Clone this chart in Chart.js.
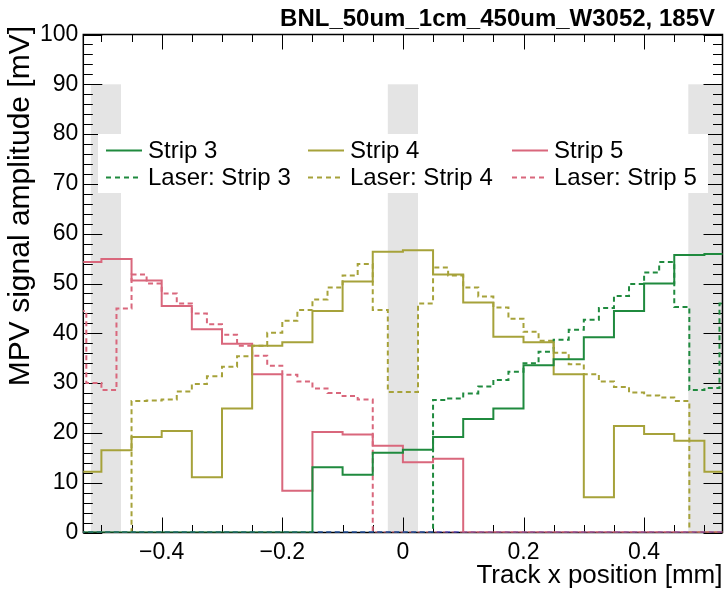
<!DOCTYPE html>
<html>
<head>
<meta charset="utf-8">
<script src="https://cdn.jsdelivr.net/npm/chart.js@4.4.1/dist/chart.umd.min.js"></script>
<style>
  html, body { margin: 0; padding: 0; background: #ffffff; }
  #wrap { width: 725px; height: 591px; }
</style>
</head>
<body>
<div id="wrap"><canvas id="c" width="725" height="591"></canvas></div>
<script>
// ---------------- data ----------------
const TITLE = 'BNL_50um_1cm_450um_W3052, 185V';
const X_TITLE = 'Track x position [mm]';
const Y_TITLE = 'MPV signal amplitude [mV]';

const xTickValues = [-0.4, -0.2, 0, 0.2, 0.4];
const yTickValues = [0, 10, 20, 30, 40, 50, 60, 70, 80, 90, 100];

// bin edges (track scan: 50 um bins, laser scan: 25 um bins)
const stripEdges = [-0.55, -0.5, -0.45, -0.4, -0.35, -0.3, -0.25, -0.2, -0.15, -0.1, -0.05, 0,
                    0.05, 0.1, 0.15, 0.2, 0.25, 0.3, 0.35, 0.4, 0.45, 0.5, 0.55];
const laserEdges = [-0.55, -0.525, -0.5, -0.475, -0.45, -0.425, -0.4, -0.375, -0.35, -0.325, -0.3,
                    -0.275, -0.25, -0.225, -0.2, -0.175, -0.15, -0.125, -0.1, -0.075, -0.05, -0.025,
                    0, 0.025, 0.05, 0.075, 0.1, 0.125, 0.15, 0.175, 0.2, 0.225, 0.25, 0.275, 0.3,
                    0.325, 0.35, 0.375, 0.4, 0.425, 0.45, 0.475, 0.5, 0.525, 0.55];

const strip3 = [0, 0, 0, 0, 0, 0, 0, 0, 13.1, 11.6, 16.0, 16.6, 19.2, 22.8, 24.9, 33.6, 34.8, 39.2, 44.5, 50.0, 55.7, 55.9];
const strip4 = [12.2, 16.5, 19.2, 20.4, 11.1, 24.9, 37.5, 38.2, 44.5, 50.4, 56.4, 56.7, 51.8, 46.2, 39.3, 38.2, 31.8, 7.1, 21.4, 19.8, 18.4, 12.2];
const strip5 = [54.3, 54.9, 50.6, 45.5, 40.8, 37.9, 31.8, 8.4, 20.2, 19.7, 17.4, 14.1, 14.8, 0, 0, 0, 0, 0, 0, 0, 0, 0];

const laser3 = [0, 0, 0, 0, 0, 0, 0, 0, 0, 0, 0, 0, 0, 0, 0, 0, 0, 0, 0, 0, 0, 0, 0, 0,
                26.6, 26.9, 27.9, 29.3, 30.6, 32.3, 34.0, 36.3, 38.7, 40.7, 42.7, 45.1, 47.5, 49.9, 52.2, 54.3,
                45.3, 28.6, 29.0, 46.0];
const laser4 = [0, 0, 0, 0,
                26.4, 26.5, 26.7, 28.3, 29.8, 31.4, 33.3, 35.4, 37.5, 40.1, 42.5, 44.7, 46.8, 49.2, 51.6, 53.9,
                44.7, 28.2, 28.2, 46.0,
                53.2, 51.6, 49.2, 47.4, 45.2, 42.9, 40.3, 38.5, 36.1, 33.8, 31.8, 30.3, 29.2, 28.1, 27.5, 27.1, 26.4,
                0, 0, 0];
const laser5 = [44.5, 30.0, 28.6, 45.0,
                51.8, 50.0, 48.0, 46.0, 44.0, 41.8, 39.7, 37.5, 35.5, 33.5, 31.7, 30.3, 28.9, 28.0, 27.4, 26.7,
                0, 0, 0, 0, 0, 0, 0, 0, 0, 0, 0, 0, 0, 0, 0, 0, 0, 0, 0, 0, 0, 0, 0, 0];
const emptyLaser = [0, 0, 0, 0, 0, 0, 0, 0, 0, 0, 0, 0, 0, 0, 0, 0, 0, 0, 0, 0, 0, 0];

// metal pad regions (shaded)
const padBands = [[-0.5175, -0.4675], [-0.025, 0.025], [0.4733, 0.5325]];
const padTop = 90;

// ---------------- styling ----------------
const FONT = '"Liberation Sans", Arial, Helvetica, sans-serif';
const C_GREEN = '#1f8a3e';
const C_OLIVE = '#a6a23a';
const C_RED = '#d9677c';
const C_BLUE = '#2233cc';
const DASH = [5, 3.5];

function histPoints(edges, values) {
  const pts = values.map((v, i) => ({ x: edges[i], y: v }));
  pts.push({ x: edges[values.length], y: values[values.length - 1] });
  return pts;
}

function ds(label, edges, values, color, dashed, inLegend) {
  return {
    label: label,
    data: histPoints(edges, values),
    borderColor: color,
    backgroundColor: color,
    borderWidth: 2,
    borderDash: dashed ? DASH : [],
    stepped: 'before',
    pointRadius: 0,
    fill: false,
    inLegend: inLegend
  };
}

const datasets = [
  ds('Strip 3', stripEdges, strip3, C_GREEN, false, true),
  ds('Strip 4', stripEdges, strip4, C_OLIVE, false, true),
  ds('Strip 5', stripEdges, strip5, C_RED, false, true),
  ds('', stripEdges, emptyLaser, C_BLUE, true, false),
  ds('Laser: Strip 3', laserEdges, laser3, C_GREEN, true, true),
  ds('Laser: Strip 4', laserEdges, laser4, C_OLIVE, true, true),
  ds('Laser: Strip 5', laserEdges, laser5, C_RED, true, true)
];

function fmtX(v) {
  if (Math.abs(v) < 1e-9) return '0';
  return (v < 0 ? '\u2212' : '') + Math.abs(v).toFixed(1);
}

const rootPlugin = {
  id: 'rootStyle',
  beforeDatasetsDraw(chart) {
    const { ctx, chartArea: a, scales: { x, y } } = chart;
    ctx.save();
    // shaded pad regions
    ctx.fillStyle = '#e4e4e4';
    padBands.forEach(([x0, x1]) => {
      const px0 = Math.max(x.getPixelForValue(x0), a.left);
      const px1 = Math.min(x.getPixelForValue(x1), a.right);
      const py0 = y.getPixelForValue(padTop);
      const py1 = y.getPixelForValue(0);
      ctx.fillRect(px0, py0, px1 - px0, py1 - py0);
    });
    // ticks (inward, all four sides)
    ctx.strokeStyle = '#000';
    ctx.lineWidth = 1;
    ctx.beginPath();
    const xMaj = 15, xMin = 7.5, yMaj = 19, yMin = 9.5;
    for (let k = -10; k <= 10; k++) {
      const v = k * 0.05;
      if (v < x.min || v > x.max) continue;
      const px = Math.round(x.getPixelForValue(v)) + 0.5;
      const len = (k % 4 === 0) ? xMaj : xMin;
      ctx.moveTo(px, a.bottom); ctx.lineTo(px, a.bottom - len);
      ctx.moveTo(px, a.top); ctx.lineTo(px, a.top + len);
    }
    for (let k = 0; k <= 50; k++) {
      const v = k * 2;
      const py = Math.round(y.getPixelForValue(v)) + 0.5;
      const len = (k % 5 === 0) ? yMaj : yMin;
      ctx.moveTo(a.left, py); ctx.lineTo(a.left + len, py);
      ctx.moveTo(a.right, py); ctx.lineTo(a.right - len, py);
    }
    ctx.stroke();
    // frame
    ctx.lineWidth = 1.5;
    ctx.strokeRect(a.left, a.top, a.right - a.left, a.bottom - a.top);
    ctx.restore();
  },
  afterDatasetsDraw(chart) {
    const { ctx } = chart;
    ctx.save();
    // legend box (white, hides shading behind)
    const box = { x: 98, y: 134, w: 610, h: 59 };
    ctx.fillStyle = '#ffffff';
    ctx.fillRect(box.x, box.y, box.w, box.h);
    const cols = [106, 308, 512];
    const rows = [150, 177];
    const entries = chart.data.datasets.filter(d => d.inLegend);
    ctx.font = '24px ' + FONT;
    ctx.textBaseline = 'middle';
    ctx.textAlign = 'left';
    entries.forEach((d, i) => {
      const cx = cols[i % 3];
      const cy = rows[Math.floor(i / 3)];
      ctx.strokeStyle = d.borderColor;
      ctx.lineWidth = 2;
      ctx.setLineDash(d.borderDash.length ? [5, 4] : []);
      ctx.beginPath();
      ctx.moveTo(cx, cy + 0.5);
      ctx.lineTo(cx + 36, cy + 0.5);
      ctx.stroke();
      ctx.setLineDash([]);
      ctx.fillStyle = '#000';
      ctx.fillText(d.label, cx + 42, cy + 1);
    });
    // main title
    ctx.font = 'bold 24px ' + FONT;
    ctx.textAlign = 'right';
    ctx.textBaseline = 'middle';
    ctx.fillStyle = '#000';
    ctx.fillText(TITLE, 715, 19);
    // y-axis title
    ctx.translate(21, 26);
    ctx.rotate(-Math.PI / 2);
    ctx.font = '30px ' + FONT;
    ctx.textAlign = 'right';
    ctx.textBaseline = 'middle';
    ctx.fillText(Y_TITLE, 0, 0);
    ctx.restore();
  }
};

new Chart(document.getElementById('c'), {
  type: 'line',
  data: { datasets: datasets },
  options: {
    responsive: false,
    animation: false,
    devicePixelRatio: 1,
    layout: { padding: { top: 34.5, right: 2.5, bottom: 0, left: 0 } },
    plugins: {
      legend: { display: false },
      title: { display: false },
      tooltip: { enabled: false }
    },
    scales: {
      x: {
        type: 'linear',
        min: -0.53,
        max: 0.53,
        grid: { display: false, drawTicks: false },
        border: { display: false },
        afterBuildTicks: s => { s.ticks = xTickValues.map(v => ({ value: v })); },
        afterFit: s => { s.height = 58.5; },
        ticks: {
          autoSkip: false, maxRotation: 0, minRotation: 0,
          padding: 6,
          color: '#000',
          font: { family: FONT, size: 23 },
          callback: v => fmtX(v)
        },
        title: {
          display: true, text: X_TITLE, align: 'end', color: '#000',
          font: { family: FONT, size: 26 }, padding: { top: 0, bottom: 0 }
        }
      },
      y: {
        type: 'linear',
        min: 0,
        max: 100,
        grid: { display: false, drawTicks: false },
        border: { display: false },
        afterBuildTicks: s => { s.ticks = yTickValues.map(v => ({ value: v })); },
        afterFit: s => { s.width = 83.3; },
        ticks: {
          autoSkip: false,
          padding: 5,
          color: '#000',
          font: { family: FONT, size: 23 },
          callback: v => String(v)
        },
        title: { display: false }
      }
    }
  },
  plugins: [rootPlugin]
});
</script>
</body>
</html>
